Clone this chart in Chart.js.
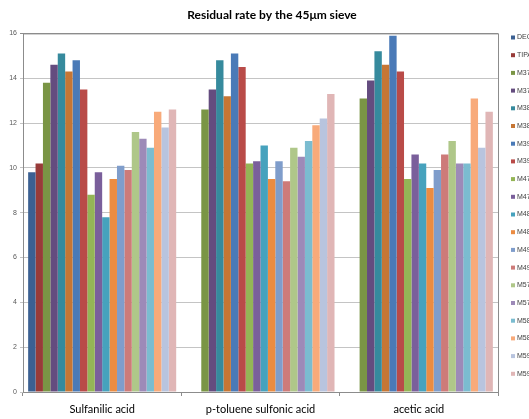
<!DOCTYPE html>
<html>
<head>
<meta charset="utf-8">
<script src="https://cdn.jsdelivr.net/npm/chart.js@4/dist/chart.umd.min.js"></script>
<style>
  html, body { margin: 0; padding: 0; background: #fff; overflow: hidden; }
  #wrap { position: relative; width: 529px; height: 419px; }
</style>
</head>
<body>
<div id="wrap"><canvas id="c" width="529" height="419"></canvas></div>
<script>
// Acid treatments (x categories)
const categories = ['Sulfanilic acid', 'p-toluene sulfonic acid', 'acetic acid'];

// Series names as shown in the legend
const seriesNames = ['DEG', 'TIPA', 'M37', 'M37', 'M38', 'M38', 'M39', 'M39', 'M47', 'M47',
                     'M48', 'M48', 'M49', 'M49', 'M57', 'M57', 'M58', 'M58', 'M59', 'M59'];

// Residual rate per series, one value per acid (null = not measured)
const DEG   = [9.8, null, null];
const TIPA  = [10.2, null, null];
const M37a  = [13.8, 12.6, 13.1];
const M37b  = [14.6, 13.5, 13.9];
const M38a  = [15.1, 14.8, 15.2];
const M38b  = [14.3, 13.2, 14.6];
const M39a  = [14.8, 15.1, 15.9];
const M39b  = [13.5, 14.5, 14.3];
const M47a  = [8.8, 10.2, 9.5];
const M47b  = [9.8, 10.3, 10.6];
const M48a  = [7.8, 11.0, 10.2];
const M48b  = [9.5, 9.5, 9.1];
const M49a  = [10.1, 10.3, 9.9];
const M49b  = [9.9, 9.4, 10.6];
const M57a  = [11.6, 10.9, 11.2];
const M57b  = [11.3, 10.5, 10.2];
const M58a  = [10.9, 11.2, 10.2];
const M58b  = [12.5, 11.9, 13.1];
const M59a  = [11.8, 12.2, 10.9];
const M59b  = [12.6, 13.3, 12.5];

const seriesValues = [DEG, TIPA, M37a, M37b, M38a, M38b, M39a, M39b, M47a, M47b,
                      M48a, M48b, M49a, M49b, M57a, M57b, M58a, M58b, M59a, M59b];

// Y axis ticks
const yTicks = [0, 2, 4, 6, 8, 10, 12, 14, 16];

const colors = ['#3b6092', '#983b39', '#7a9545', '#644c7f', '#368a9d', '#c67634',
                '#4a7ab7', '#b94b48', '#94b556', '#7a5f9b', '#46a2bd', '#eb8c42',
                '#7f9dcb', '#cd7b79', '#afc789', '#9d8ab8', '#7bbcd0', '#f8aa7a',
                '#b8c4de', '#e0b6b6'];

const datasets = seriesValues.map((vals, i) => ({
  label: seriesNames[i],
  data: vals,
  backgroundColor: colors[i],
  borderWidth: 0,
  categoryPercentage: 0.935,
  barPercentage: 1.0
}));

// Frame lines (top and right edge of the plot), title offset and the side legend
const framePlugin = {
  id: 'frame',
  afterLayout(chart) {
    const t = chart.titleBlock;
    if (t) { t.left += 23; t.right += 23; }
  },
  afterDatasetsDraw(chart) {
    const { ctx, chartArea: a } = chart;
    ctx.save();
    ctx.strokeStyle = '#8c8c8c';
    ctx.lineWidth = 1;
    ctx.beginPath();
    ctx.moveTo(a.left, a.top + 0.5);
    ctx.lineTo(a.right, a.top + 0.5);
    ctx.moveTo(Math.round(a.right) + 0.5, a.top);
    ctx.lineTo(Math.round(a.right) + 0.5, a.bottom + 4);
    ctx.stroke();
    ctx.restore();
  },
  afterDraw(chart) {
    const { ctx } = chart;
    ctx.save();
    ctx.font = '7px "Liberation Sans", Arial, sans-serif';
    ctx.textBaseline = 'middle';
    chart.data.datasets.forEach((ds, i) => {
      const y = 37.5 + i * 17.7;
      ctx.fillStyle = ds.backgroundColor;
      ctx.fillRect(511, y - 2, 4, 4);
      ctx.fillStyle = '#404040';
      ctx.fillText(ds.label, 517, y);
    });
    ctx.restore();
  }
};

new Chart(document.getElementById('c'), {
  type: 'bar',
  data: { labels: categories, datasets },
  options: {
    responsive: false,
    animation: false,
    layout: { padding: { left: 0, right: 31, top: 0, bottom: 0 } },
    plugins: {
      legend: { display: false },
      tooltip: { enabled: false },
      title: {
        display: true,
        text: 'Residual rate by the 45μm sieve',
        color: '#000',
        font: { family: 'Lato, "Liberation Sans", sans-serif', size: 12, weight: 'bold' },
        padding: { top: 8, bottom: 11 }
      }
    },
    scales: {
      x: {
        afterFit: (s) => { s.height = 27; },
        grid: { display: true, drawOnChartArea: false, offset: true, tickLength: 4, color: '#8c8c8c' },
        border: { color: '#8c8c8c' },
        ticks: {
          color: '#000',
          padding: 7,
          font: { family: 'Lato, "Liberation Sans", sans-serif', size: 11 }
        }
      },
      y: {
        min: 0,
        max: 16,
        afterBuildTicks: (s) => { s.ticks = yTicks.map(v => ({ value: v })); },
        afterFit: (s) => { s.width = 23; },
        grid: { color: (c) => c.tick && c.tick.value === 16 ? '#8c8c8c' : '#c4c4c4', tickLength: 3, lineWidth: 1 },
        border: { color: '#8c8c8c' },
        ticks: {
          color: '#595959',
          padding: 3,
          font: { family: '"Liberation Sans", Arial, sans-serif', size: 7 }
        }
      }
    }
  },
  plugins: [framePlugin]
});
</script>
</body>
</html>
